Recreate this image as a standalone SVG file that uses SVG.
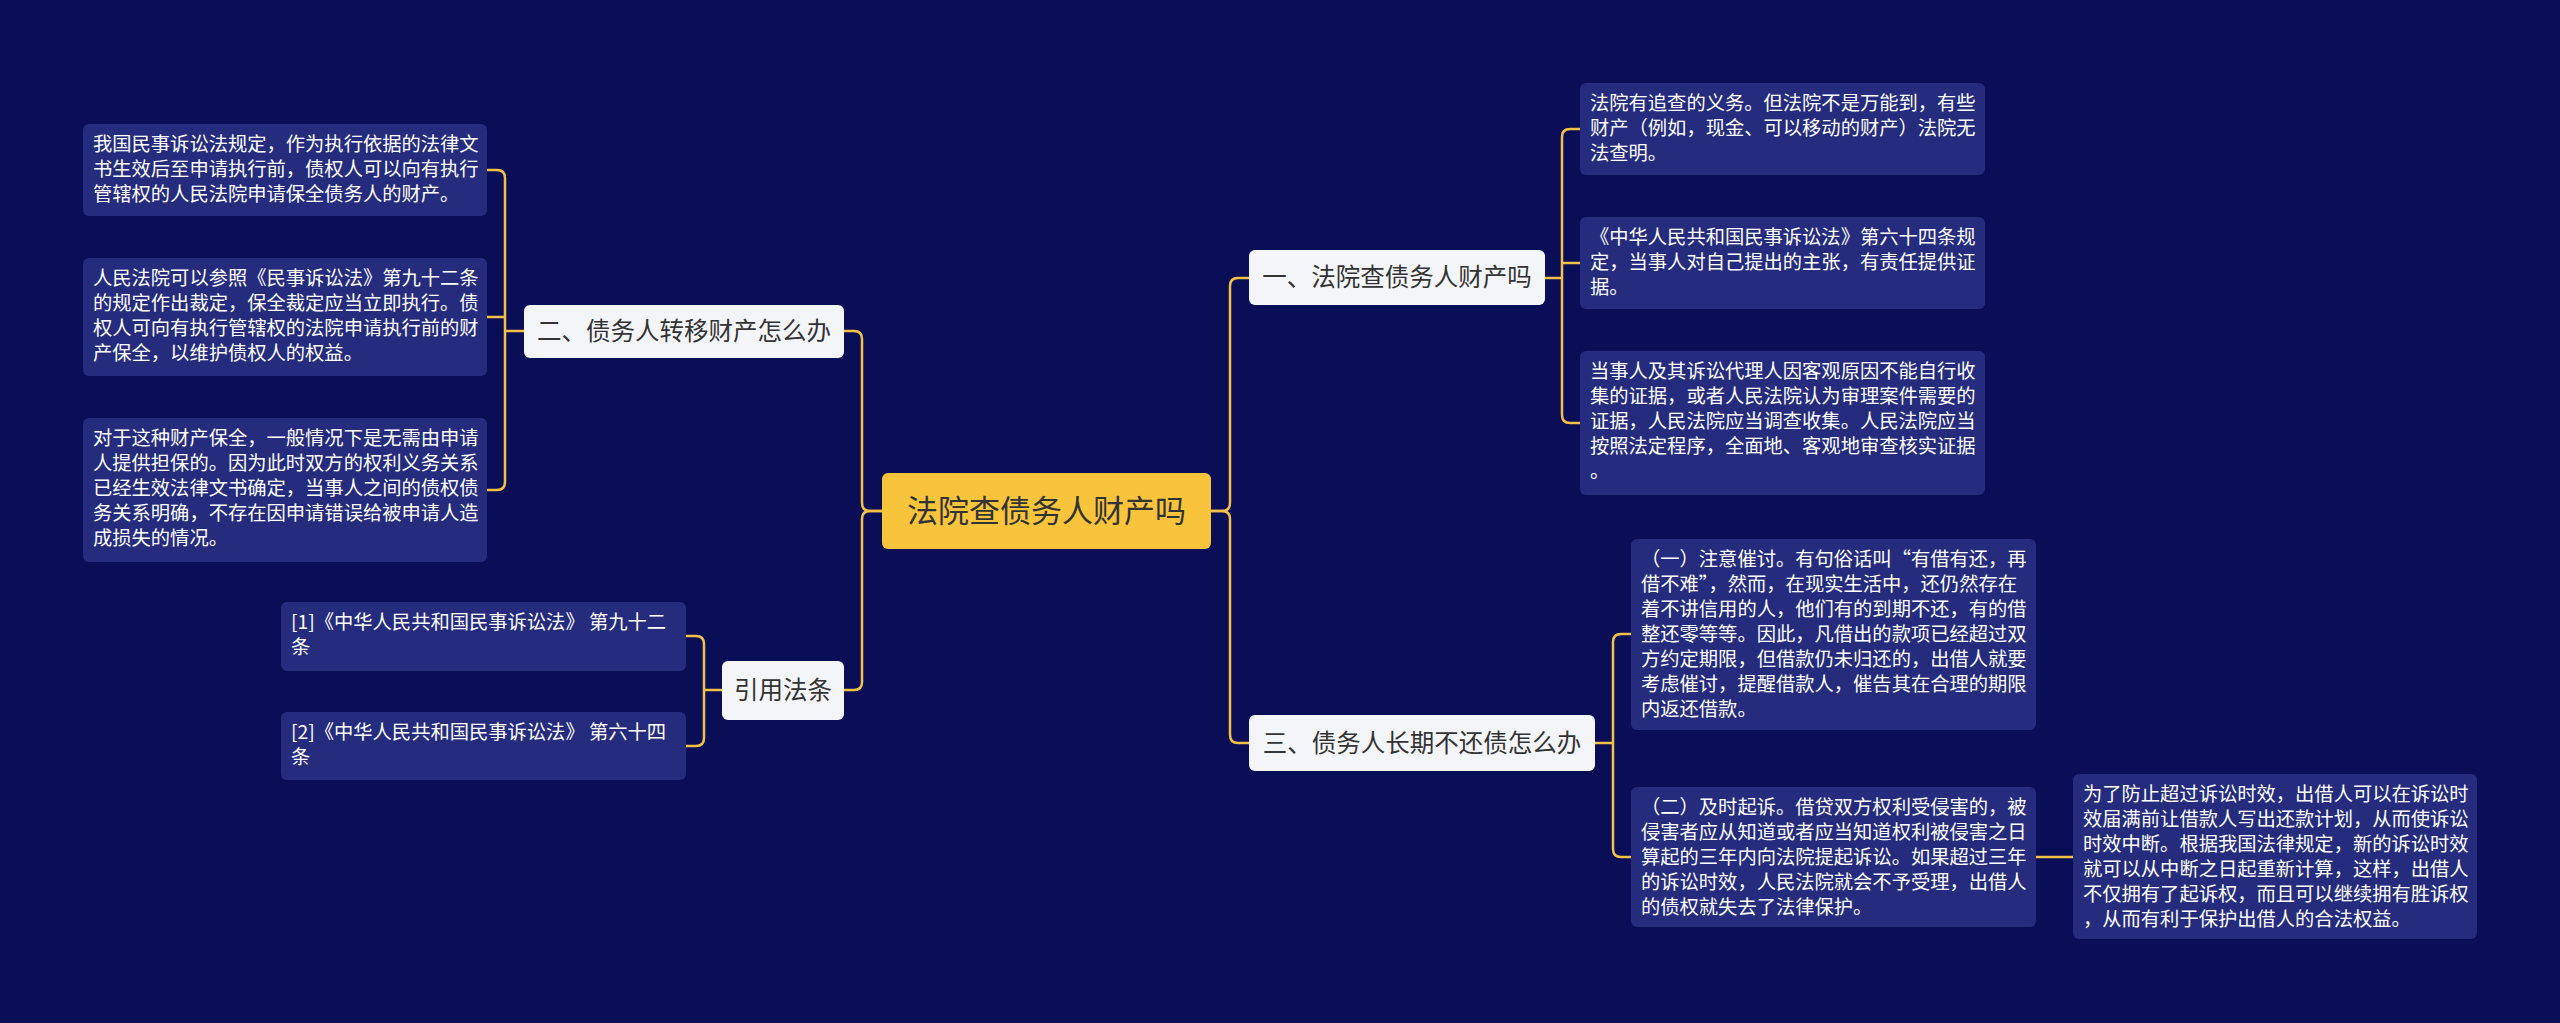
<svg xmlns="http://www.w3.org/2000/svg" width="2560" height="1023" viewBox="0 0 2560 1023">
<style>
.leaf rect{fill:#252c7d}
.leaf text{fill:#ffffff;font-family:"Noto Sans CJK SC","Noto Sans",sans-serif;font-size:19.3px}
.l1 rect{fill:#f4f5f9}
.l1 text{fill:#333333;font-family:"Noto Sans CJK SC",sans-serif;font-size:24.5px}
.root rect{fill:#f8c43c}
.root text{fill:#333333;font-family:"Noto Sans CJK SC",sans-serif;font-size:31px}
.conn path{fill:none;stroke:#f2c247;stroke-width:2.5}
</style>
<rect width="2560" height="1023" fill="#0a0e57"/>
<g class="conn">
<path d="M1211 511 H1222 Q1230 511 1230 503 V286 Q1230 278 1238 278 H1249"/>
<path d="M1211 511 H1222 Q1230 511 1230 519 V735 Q1230 743 1238 743 H1249"/>
<path d="M882 511 H870 Q862 511 862 503 V339 Q862 331 854 331 H844"/>
<path d="M882 511 H870 Q862 511 862 519 V682 Q862 690 854 690 H844"/>
<path d="M1545 278 H1562 M1562 278 V137 Q1562 129 1570 129 H1580 M1562 263 Q1562 263 1570 263 H1580 M1562 137 V415 Q1562 423 1570 423 H1580"/>
<path d="M1595 743 H1613 M1613 743 V642 Q1613 634 1621 634 H1631 M1613 743 V849 Q1613 857 1621 857 H1631"/>
<path d="M2036 857 H2073"/>
<path d="M524 331 H505 M505 331 V178 Q505 170 497 170 H487 M505 317 H487 M505 178 V482 Q505 490 497 490 H487"/>
<path d="M722 690 H704 M704 690 V644 Q704 636 696 636 H686 M704 690 V738 Q704 746 696 746 H686"/>
</g>
<g id="root" class="root"><rect x="882" y="473" width="329" height="76" rx="6"/><text x="1046.5" y="522" text-anchor="middle">法院查债务人财产吗</text></g>
<g id="n1" class="l1"><rect x="1249" y="250" width="296" height="55" rx="6"/><text x="1397" y="286" text-anchor="middle">一、法院查债务人财产吗</text></g>
<g id="n3" class="l1"><rect x="1249" y="715" width="346" height="56" rx="6"/><text x="1422" y="752" text-anchor="middle">三、债务人长期不还债怎么办</text></g>
<g id="n2" class="l1"><rect x="524" y="305" width="320" height="53" rx="6"/><text x="684" y="340" text-anchor="middle">二、债务人转移财产怎么办</text></g>
<g id="n4" class="l1"><rect x="722" y="661" width="122" height="59" rx="6"/><text x="783" y="699" text-anchor="middle">引用法条</text></g>
<g id="a1" class="leaf"><rect x="83" y="124" width="404" height="92" rx="6"/><text x="93" y="151"><tspan x="93">我国民事诉讼法规定，作为执行依据的法律文</tspan><tspan x="93" dy="25">书生效后至申请执行前，债权人可以向有执行</tspan><tspan x="93" dy="25">管辖权的人民法院申请保全债务人的财产。</tspan></text></g>
<g id="a2" class="leaf"><rect x="83" y="258" width="404" height="118" rx="6"/><text x="93" y="285"><tspan x="93">人民法院可以参照《民事诉讼法》第九十二条</tspan><tspan x="93" dy="25">的规定作出裁定，保全裁定应当立即执行。债</tspan><tspan x="93" dy="25">权人可向有执行管辖权的法院申请执行前的财</tspan><tspan x="93" dy="25">产保全，以维护债权人的权益。</tspan></text></g>
<g id="a3" class="leaf"><rect x="83" y="418" width="404" height="144" rx="6"/><text x="93" y="445"><tspan x="93">对于这种财产保全，一般情况下是无需由申请</tspan><tspan x="93" dy="25">人提供担保的。因为此时双方的权利义务关系</tspan><tspan x="93" dy="25">已经生效法律文书确定，当事人之间的债权债</tspan><tspan x="93" dy="25">务关系明确，不存在因申请错误给被申请人造</tspan><tspan x="93" dy="25">成损失的情况。</tspan></text></g>
<g id="c1" class="leaf"><rect x="281" y="602" width="405" height="69" rx="6"/><text x="291" y="629"><tspan x="291">[1]《中华人民共和国民事诉讼法》 第九十二</tspan><tspan x="291" dy="25">条</tspan></text></g>
<g id="c2" class="leaf"><rect x="281" y="712" width="405" height="68" rx="6"/><text x="291" y="739"><tspan x="291">[2]《中华人民共和国民事诉讼法》 第六十四</tspan><tspan x="291" dy="25">条</tspan></text></g>
<g id="r1" class="leaf"><rect x="1580" y="83" width="405" height="92" rx="6"/><text x="1590" y="110"><tspan x="1590">法院有追查的义务。但法院不是万能到，有些</tspan><tspan x="1590" dy="25">财产（例如，现金、可以移动的财产）法院无</tspan><tspan x="1590" dy="25">法查明。</tspan></text></g>
<g id="r2" class="leaf"><rect x="1580" y="217" width="405" height="92" rx="6"/><text x="1590" y="244"><tspan x="1590">《中华人民共和国民事诉讼法》第六十四条规</tspan><tspan x="1590" dy="25">定，当事人对自己提出的主张，有责任提供证</tspan><tspan x="1590" dy="25">据。</tspan></text></g>
<g id="r3" class="leaf"><rect x="1580" y="351" width="405" height="144" rx="6"/><text x="1590" y="378"><tspan x="1590">当事人及其诉讼代理人因客观原因不能自行收</tspan><tspan x="1590" dy="25">集的证据，或者人民法院认为审理案件需要的</tspan><tspan x="1590" dy="25">证据，人民法院应当调查收集。人民法院应当</tspan><tspan x="1590" dy="25">按照法定程序，全面地、客观地审查核实证据</tspan><tspan x="1590" dy="25">。</tspan></text></g>
<g id="r4" class="leaf"><rect x="1631" y="539" width="405" height="191" rx="6"/><text x="1641" y="566"><tspan x="1641">（一）注意催讨。有句俗话叫“有借有还，再</tspan><tspan x="1641" dy="25">借不难”，然而，在现实生活中，还仍然存在</tspan><tspan x="1641" dy="25">着不讲信用的人，他们有的到期不还，有的借</tspan><tspan x="1641" dy="25">整还零等等。因此，凡借出的款项已经超过双</tspan><tspan x="1641" dy="25">方约定期限，但借款仍未归还的，出借人就要</tspan><tspan x="1641" dy="25">考虑催讨，提醒借款人，催告其在合理的期限</tspan><tspan x="1641" dy="25">内返还借款。</tspan></text></g>
<g id="r5" class="leaf"><rect x="1631" y="787" width="405" height="140" rx="6"/><text x="1641" y="814"><tspan x="1641">（二）及时起诉。借贷双方权利受侵害的，被</tspan><tspan x="1641" dy="25">侵害者应从知道或者应当知道权利被侵害之日</tspan><tspan x="1641" dy="25">算起的三年内向法院提起诉讼。如果超过三年</tspan><tspan x="1641" dy="25">的诉讼时效，人民法院就会不予受理，出借人</tspan><tspan x="1641" dy="25">的债权就失去了法律保护。</tspan></text></g>
<g id="r6" class="leaf"><rect x="2073" y="774" width="404" height="165" rx="6"/><text x="2083" y="801"><tspan x="2083">为了防止超过诉讼时效，出借人可以在诉讼时</tspan><tspan x="2083" dy="25">效届满前让借款人写出还款计划，从而使诉讼</tspan><tspan x="2083" dy="25">时效中断。根据我国法律规定，新的诉讼时效</tspan><tspan x="2083" dy="25">就可以从中断之日起重新计算，这样，出借人</tspan><tspan x="2083" dy="25">不仅拥有了起诉权，而且可以继续拥有胜诉权</tspan><tspan x="2083" dy="25">，从而有利于保护出借人的合法权益。</tspan></text></g>
</svg>
